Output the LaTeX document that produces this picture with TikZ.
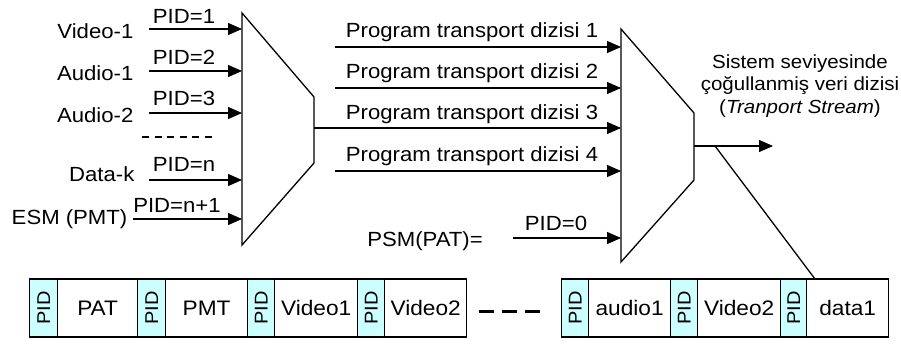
\documentclass[tikz,border=0pt]{standalone}
\usepackage{fontspec}
\setmainfont{Liberation Sans}[FakeStretch=1.08]
\usetikzlibrary{arrows.meta}
\definecolor{pidcyan}{HTML}{CCFFFF}
\begin{document}
\begin{tikzpicture}[x=1pt,y=-1pt,line width=1.3pt,
  lbl/.style={font=\fontsize{20.5}{22}\selectfont,inner sep=0pt},
  sml/.style={font=\fontsize{19}{22.5}\selectfont,inner sep=0pt,align=center},
  arr/.style={-{Triangle[length=14pt,width=12pt]}},
  cell/.style={draw,line width=1.3pt,minimum height=58pt,inner sep=0pt,anchor=west,font=\fontsize{21}{22}\selectfont},
  pidcell/.style={cell,fill=pidcyan,font=\fontsize{18.5}{19}\selectfont}]
\useasboundingbox (0,0) rectangle (901,343);
% multiplexer 1
\draw (242,13) -- (314,97) -- (314,163) -- (242,245) -- cycle;
% multiplexer 2
\draw (621,29) -- (694,113) -- (694,180) -- (621,262) -- cycle;
% input coordinates
\coordinate (s1) at (149,29);  \coordinate (e1) at (242,29);
\coordinate (s2) at (149,71);  \coordinate (e2) at (242,71);
\coordinate (s3) at (149,113); \coordinate (e3) at (242,113);
\coordinate (s4) at (149,180); \coordinate (e4) at (242,180);
\coordinate (s5) at (133,219); \coordinate (e5) at (242,219);
\node[lbl,anchor=east] (v1) at (134,31) {Video-1};
\node[lbl,anchor=east] (a1) at (134,73) {Audio-1};
\node[lbl,anchor=east] (a2) at (134,115) {Audio-2};
\node[lbl,anchor=east] (dk) at (135,174) {Data-k};
\node[lbl,anchor=east] (esm) at (128,219) {ESM (PMT)};
\node[lbl] (pid1) at (184,16) {PID=1};
\node[lbl] (pid2) at (184,57) {PID=2};
\node[lbl] (pid3) at (184,98) {PID=3};
\node[lbl] (pidn) at (184,164) {PID=n};
\node[lbl] (pidn1) at (177,205) {PID=n+1};
\draw[arr] (s1) -- (e1);
\draw[arr] (s2) -- (e2);
\draw[arr] (s3) -- (e3);
\draw[arr] (s4) -- (e4);
\draw[arr] (s5) -- (e5);
\coordinate (d1) at (142,137); \coordinate (d2) at (214,137);
\draw[line width=1.1pt,dash pattern=on 7pt off 5.5pt] (d1) -- (d2);
% program transport streams
\coordinate (m1o) at (314,128);
\coordinate (t1s) at (335,47);  \coordinate (t1e) at (621,47);
\coordinate (t2s) at (335,88);  \coordinate (t2e) at (621,88);
\coordinate (t3e) at (621,128);
\coordinate (t4s) at (335,171); \coordinate (t4e) at (621,171);
\draw[arr] (t1s) -- (t1e);
\draw[arr] (t2s) -- (t2e);
\draw[arr] (m1o) -- (t3e);
\draw[arr] (t4s) -- (t4e);
\node[lbl] (pt1) at (472,32) {Program transport dizisi 1};
\node[lbl] (pt2) at (472,73) {Program transport dizisi 2};
\node[lbl] (pt3) at (472,114) {Program transport dizisi 3};
\node[lbl] (pt4) at (472,156) {Program transport dizisi 4};
% PSM
\node[lbl] (psm) at (425,241) {PSM(PAT)=};
\node[lbl] (pid0) at (556,223) {PID=0};
\coordinate (p0s) at (513,238); \coordinate (p0e) at (621,238);
\draw[arr] (p0s) -- (p0e);
% output
\coordinate (m2o) at (694,146); \coordinate (oute) at (773,146);
\draw[arr] (m2o) -- (oute);
\node[sml] (ts) at (800,86) {Sistem seviyesinde\\çoğullanmiş veri dizisi\\(\textit{Tranport Stream})};
\coordinate (zs) at (715,146); \coordinate (ze) at (815,279);
\draw (zs) -- (ze);
% packet row 1
\node[pidcell,minimum width=28pt] (c1) at (29,308) {\rotatebox{90}{PID}};
\node[cell,minimum width=80pt] (c2) at (57,308) {PAT};
\node[pidcell,minimum width=28pt] (c3) at (137,308) {\rotatebox{90}{PID}};
\node[cell,minimum width=82pt] (c4) at (165,308) {PMT};
\node[pidcell,minimum width=27pt] (c5) at (247,308) {\rotatebox{90}{PID}};
\node[cell,minimum width=83pt] (c6) at (274,308) {Video1};
\node[pidcell,minimum width=27pt] (c7) at (357,308) {\rotatebox{90}{PID}};
\node[cell,minimum width=82pt] (c8) at (384,308) {Video2};
% dashes
\coordinate (g1) at (479,311); \coordinate (g2) at (541,311);
\draw[line width=3pt,dash pattern=on 15pt off 8pt] (g1) -- (g2);
% packet row 2
\node[pidcell,minimum width=27pt] (k1) at (561,308) {\rotatebox{90}{PID}};
\node[cell,minimum width=82pt] (k2) at (588,308) {audio1};
\node[pidcell,minimum width=27pt] (k3) at (670,308) {\rotatebox{90}{PID}};
\node[cell,minimum width=83pt] (k4) at (697,308) {Video2};
\node[pidcell,minimum width=26pt] (k5) at (780,308) {\rotatebox{90}{PID}};
\node[cell,minimum width=82pt] (k6) at (806,308) {data1};
\end{tikzpicture}
\end{document}
